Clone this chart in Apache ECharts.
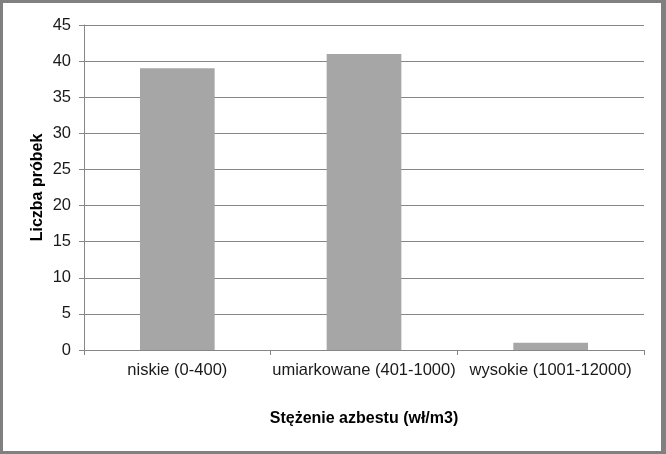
<!DOCTYPE html>
<html>
<head>
<meta charset="utf-8">
<script src="https://cdn.jsdelivr.net/npm/echarts@6/dist/echarts.min.js"></script>
<style>
  html, body { margin: 0; padding: 0; background: #fff; }
  #chart { width: 666px; height: 454px; }
</style>
</head>
<body>
<div id="chart"></div>
<script>
const categories = ['niskie (0-400)', 'umiarkowane (401-1000)', 'wysokie (1001-12000)'];
const counts = [39, 41, 1];
const yMin = 0, yMax = 45, yStep = 5;

const myChart = echarts.init(document.getElementById('chart'));
const font = 'Liberation Sans, Arial, sans-serif';

myChart.setOption({
  animation: false,
  backgroundColor: '#fff',
  graphic: [
    {
      type: 'rect',
      shape: { x: 1.5, y: 1.5, width: 661, height: 451 },
      style: { fill: 'none', stroke: '#808080', lineWidth: 3 }
    },
    {
      type: 'rect',
      shape: { x: 662, y: 0, width: 4, height: 454 },
      style: { fill: '#808080' }
    }
  ],
  grid: { left: 84, right: 22, top: 25, bottom: 104 },
  xAxis: {
    type: 'category',
    data: categories,
    name: 'Stężenie azbestu (wł/m3)',
    nameLocation: 'middle',
    nameGap: 61,
    nameMoveOverlap: false,
    nameTextStyle: { fontFamily: font, fontSize: 16, fontWeight: 'bold', color: '#000' },
    axisLine: { lineStyle: { color: '#868686', width: 1 } },
    axisTick: { show: true, length: 5, lineStyle: { color: '#868686' } },
    axisLabel: { fontFamily: font, fontSize: 16.5, color: '#1a1a1a', margin: 12, interval: 0 }
  },
  yAxis: {
    type: 'value',
    min: yMin,
    max: yMax,
    interval: yStep,
    name: 'Liczba próbek',
    nameLocation: 'middle',
    nameGap: 38,
    nameMoveOverlap: false,
    nameTextStyle: { fontFamily: font, fontSize: 16, fontWeight: 'bold', color: '#000' },
    axisLine: { show: true, lineStyle: { color: '#868686', width: 1 } },
    axisTick: { show: true, length: 5, lineStyle: { color: '#868686' } },
    axisLabel: { fontFamily: font, fontSize: 16.5, color: '#1a1a1a', margin: 13 },
    splitLine: { lineStyle: { color: '#868686', width: 1 } }
  },
  series: [
    {
      type: 'bar',
      data: counts,
      barWidth: '40%',
      itemStyle: { color: '#a6a6a6' }
    }
  ]
});
</script>
</body>
</html>
